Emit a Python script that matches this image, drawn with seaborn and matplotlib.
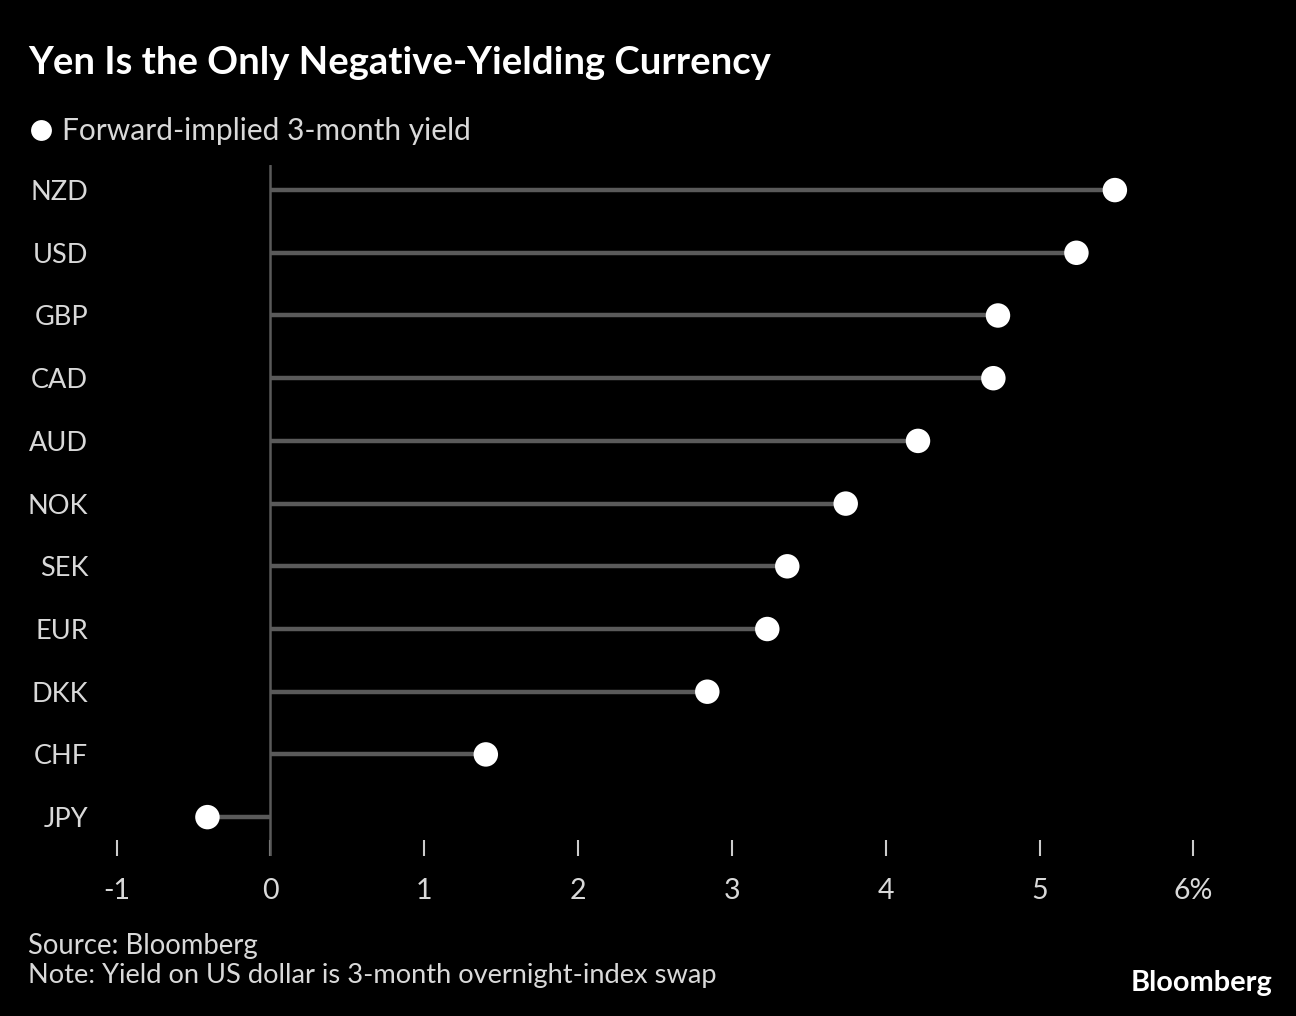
import matplotlib
matplotlib.use("Agg")
import matplotlib.pyplot as plt
from matplotlib.lines import Line2D
import seaborn as sns
import pandas as pd

currencies = ["NZD", "USD", "GBP", "CAD", "AUD", "NOK", "SEK", "EUR", "DKK", "CHF", "JPY"]
yields = [5.49, 5.24, 4.73, 4.70, 4.21, 3.74, 3.36, 3.23, 2.84, 1.40, -0.41]
x_ticks = [-1, 0, 1, 2, 3, 4, 5, 6]
x_tick_labels = ["-1", "0", "1", "2", "3", "4", "5", "6%"]

title = "Yen Is the Only Negative-Yielding Currency"
legend_label = "Forward-implied 3-month yield"
source = "Source: Bloomberg"
note = "Note: Yield on US dollar is 3-month overnight-index swap"

df = pd.DataFrame({"currency": currencies, "yield": yields})

sns.set_theme(style="dark")
plt.rcParams["font.family"] = ["Lato", "DejaVu Sans"]

BG = "#000000"
TXT = "#d9d9d9"
STEM = "#5a5a5a"

fig = plt.figure(figsize=(12.96, 10.16), dpi=100, facecolor=BG)
ax = fig.add_axes([109 / 1296, (1016 - 856) / 1016, (1201 - 109) / 1296, (856 - 165) / 1016])
ax.set_facecolor(BG)

pos = list(range(len(currencies)))
ax.hlines(pos, 0, df["yield"], color=STEM, lw=3.2, zorder=2)
ax.axvline(0, color=STEM, lw=1.8, zorder=1)

sns.scatterplot(data=df, x="yield", y="currency", ax=ax, color="white", s=310,
                edgecolor="none", zorder=3, legend=False)

ax.set_xlim(-1.05, 6.05)
ax.set_ylim(10.62, -0.4)
ax.set_xticks(x_ticks)
ax.set_xticklabels(x_tick_labels)
ax.set_xlabel("")
ax.set_ylabel("")
ax.grid(False)
for s in ax.spines.values():
    s.set_visible(False)

ax.tick_params(axis="x", bottom=True, direction="in", length=11.5, width=1.5, color="#cccccc",
               pad=16, labelsize=20.5, labelcolor=TXT)
ax.tick_params(axis="y", left=False, length=0, pad=15, labelsize=19.5, labelcolor=TXT)

fig.text(28 / 1296, 1 - 63 / 1016, title, fontsize=27.5, fontweight="bold", color="white",
         va="center", ha="left")

handle = Line2D([], [], marker="o", linestyle="none", markersize=15,
                markerfacecolor="white", markeredgecolor="none")
fig.legend([handle], [legend_label], loc="center left",
           bbox_to_anchor=(26 / 1296, 1 - 131 / 1016), frameon=False,
           fontsize=21.5, labelcolor=TXT, handletextpad=0.2, handlelength=1.0,
           borderaxespad=0, borderpad=0)

fig.text(28 / 1296, 1 - 946 / 1016, source, fontsize=19.8, color=TXT, va="center", ha="left")
fig.text(28 / 1296, 1 - 976 / 1016, note, fontsize=19.6, color=TXT, va="center", ha="left")
fig.text(1272 / 1296, 1 - 983 / 1016, "Bloomberg", fontsize=20.8, fontweight="bold",
         color="white", va="center", ha="right")

fig.savefig("out.png", dpi=100, facecolor=BG)
